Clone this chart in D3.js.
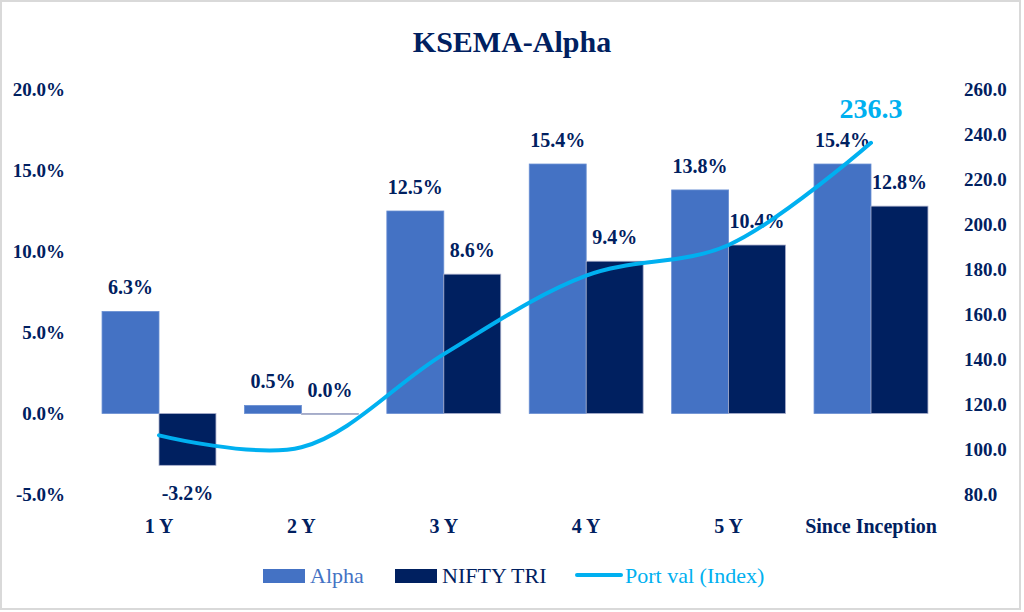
<!DOCTYPE html>
<html>
<head>
<meta charset="utf-8">
<script src="https://cdn.jsdelivr.net/npm/d3@7/dist/d3.min.js"></script>
<style>
  html, body { margin: 0; padding: 0; background: #fff; }
  svg { display: block; }
  text { font-family: "Liberation Serif", "DejaVu Serif", serif; }
</style>
</head>
<body>
<svg id="chart" width="1024" height="612"></svg>
<script>
const categories = ["1 Y", "2 Y", "3 Y", "4 Y", "5 Y", "Since Inception"];
const alphaValues = [6.3, 0.5, 12.5, 15.4, 13.8, 15.4];
const niftyValues = [-3.2, 0.0, 8.6, 9.4, 10.4, 12.8];
const portValues = [106.3, 101.0, 142.4, 177.3, 190.9, 236.3];
const leftTicks = [-5, 0, 5, 10, 15, 20];
const rightTicks = [80, 100, 120, 140, 160, 180, 200, 220, 240, 260];
const seriesNames = ["Alpha", "NIFTY TRI", "Port val (Index)"];
const titleText = "KSEMA-Alpha";

const NAVY = "#002060", BLUE = "#4472C4", CYAN = "#00B0F0";

const svg = d3.select("#chart");

// frame
svg.append("rect").attr("x", 1).attr("y", 1).attr("width", 1019).attr("height", 608)
  .attr("fill", "#fff").attr("stroke", "#d9d9d9").attr("stroke-width", 2);

// title
svg.append("text").attr("x", 512).attr("y", 52).attr("text-anchor", "middle")
  .attr("font-size", 30).attr("font-weight", "bold").attr("fill", NAVY).text(titleText);

const x = d3.scaleBand().domain(categories).range([87.8, 942.2]).paddingInner(0.2).paddingOuter(0.1);
const sub = d3.scaleBand().domain(["alpha", "nifty"]).range([0, x.bandwidth()]);
const yL = d3.scaleLinear().domain([-5, 20]).range([494.5, 89.5]);
const yR = d3.scaleLinear().domain([80, 260]).range([494.5, 89.5]);

// left axis
const axL = svg.append("g").attr("transform", "translate(72,0)")
  .call(d3.axisLeft(yL).tickValues(leftTicks).tickSize(0).tickPadding(7).tickFormat(d => d.toFixed(1) + "%"));
axL.select(".domain").remove();
axL.selectAll("text").attr("font-size", 19).attr("font-weight", "bold").attr("fill", NAVY)
  .attr("font-family", "Liberation Serif");

// right axis
const axR = svg.append("g").attr("transform", "translate(957,0)")
  .call(d3.axisRight(yR).tickValues(rightTicks).tickSize(0).tickPadding(7).tickFormat(d => d.toFixed(1)));
axR.select(".domain").remove();
axR.selectAll("text").attr("font-size", 19).attr("font-weight", "bold").attr("fill", NAVY)
  .attr("font-family", "Liberation Serif");

// category axis labels
svg.append("g").selectAll("text").data(categories).join("text")
  .attr("x", d => x(d) + x.bandwidth() / 2).attr("y", 533)
  .attr("text-anchor", "middle").attr("font-size", 20).attr("font-weight", "bold")
  .attr("fill", NAVY).text(d => d);

const rows = categories.map((c, i) => ({ c, alpha: alphaValues[i], nifty: niftyValues[i], port: portValues[i] }));

function drawBars(key, fill, stroke) {
  const g = svg.append("g");
  g.selectAll("rect").data(rows).join("rect")
    .attr("x", d => x(d.c) + sub(key))
    .attr("width", sub.bandwidth())
    .attr("y", d => yL(Math.max(0, d[key])))
    .attr("height", d => Math.max(0.8, Math.abs(yL(d[key]) - yL(0))))
    .attr("fill", fill).attr("stroke", stroke).attr("stroke-width", 0.8);
  g.selectAll("text").data(rows).join("text")
    .attr("x", d => x(d.c) + sub(key) + sub.bandwidth() / 2)
    .attr("y", d => d[key] < 0 ? yL(d[key]) + 35 : yL(d[key]) - 17)
    .attr("text-anchor", "middle").attr("font-size", 20).attr("font-weight", "bold")
    .attr("fill", NAVY).text(d => d[key].toFixed(1) + "%");
}
drawBars("alpha", BLUE, "#6a8fd3");
drawBars("nifty", NAVY, "#a9afcc");

// line
const line = d3.line().x(d => x(d.c) + x.bandwidth() / 2).y(d => yR(d.port)).curve(d3.curveCatmullRom.alpha(0.5));
svg.append("path").datum(rows).attr("d", line).attr("fill", "none")
  .attr("stroke", CYAN).attr("stroke-width", 4).attr("stroke-linecap", "round");

const last = rows[rows.length - 1];
svg.append("text").attr("x", x(last.c) + x.bandwidth() / 2).attr("y", yR(last.port) - 25)
  .attr("text-anchor", "middle").attr("font-size", 28).attr("font-weight", "bold")
  .attr("fill", CYAN).text(last.port.toFixed(1));

// legend
const lg = svg.append("g");
lg.append("rect").attr("x", 263).attr("y", 569).attr("width", 42).attr("height", 14).attr("fill", BLUE);
lg.append("text").attr("x", 310).attr("y", 583).attr("font-size", 22).attr("fill", BLUE).text(seriesNames[0]);
lg.append("rect").attr("x", 395).attr("y", 569).attr("width", 42).attr("height", 14).attr("fill", NAVY);
lg.append("text").attr("x", 442).attr("y", 583).attr("font-size", 22).attr("fill", NAVY).text(seriesNames[1]);
lg.append("line").attr("x1", 577).attr("x2", 621).attr("y1", 575).attr("y2", 575)
  .attr("stroke", CYAN).attr("stroke-width", 4).attr("stroke-linecap", "round");
lg.append("text").attr("x", 625).attr("y", 583).attr("font-size", 22).attr("fill", CYAN).text(seriesNames[2]);
</script>
</body>
</html>
